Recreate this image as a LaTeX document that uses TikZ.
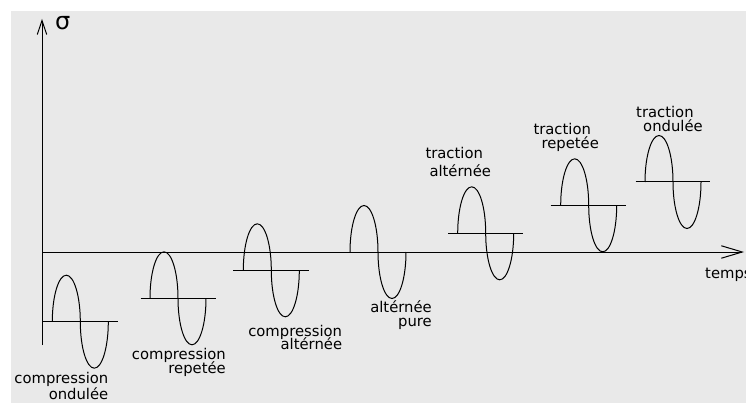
\documentclass[tikz,border=0pt]{standalone}
\usepackage{fontspec}
\usepackage{xcolor}
\usepackage{tikz}
\usetikzlibrary{arrows.meta}
\newfontfamily\plotfont{DejaVu Sans}
\definecolor{paper}{RGB}{233,233,233}

\begin{document}
\begin{tikzpicture}[
    x=1pt, y=-1pt,
    axis/.style={line width=1pt, draw=black},
    curve/.style={line width=1pt, draw=black},
    lbl/.style={inner sep=0pt, font={\plotfont\fontsize{14.8pt}{14.5pt}\selectfont\lineskiplimit=-20pt}},
    sigarrow/.style={-{Straight Barb[length=14pt, width=9.5pt]}},
    timarrow/.style={-{Straight Barb[length=21pt, width=12.5pt]}}
]

\useasboundingbox (0,0) rectangle (746,403);
\fill[paper] (11,11) rectangle (746,403);

% ===== AXES =====
\coordinate (origin) at (42,252);
\coordinate (sigBot) at (42,345);
\coordinate (sigTop) at (42,19);
\coordinate (timEnd) at (744,252);
\draw[axis, sigarrow] (sigBot) -- (sigTop);
\draw[axis, timarrow] (origin) -- (timEnd);
\node[anchor=base west, inner sep=0pt, font=\plotfont\fontsize{24pt}{24pt}\selectfont] (sigma) at (55,29.5) {σ};
\node[lbl, anchor=base west] (temps) at (705,278.3) {temps};

% ===== COMPRESSION ONDULEE =====
\draw[curve] (42,321.7) -- (117.7,321.7);
\draw[curve] (52.3,321.7) arc[start angle=180, end angle=0, x radius=14pt, y radius=46.5pt]
                          arc[start angle=180, end angle=360, x radius=14pt, y radius=46.5pt];
\node[lbl, anchor=north east, align=right] (cpOnd) at (108.5,372) {compression\\[1.5pt]ondulée};

% ===== COMPRESSION REPETEE =====
\draw[curve] (140.7,298.3) -- (215.7,298.3);
\draw[curve] (150,298.3) arc[start angle=180, end angle=0, x radius=14pt, y radius=46.5pt]
                         arc[start angle=180, end angle=360, x radius=14pt, y radius=46.5pt];
\node[lbl, anchor=north east, align=right] (cpRep) at (226,348.5) {compression\\[-0.5pt]repetée};

% ===== COMPRESSION ALTERNEE =====
\draw[curve] (233.3,270.3) -- (309,270.3);
\draw[curve] (243.3,270.3) arc[start angle=180, end angle=0, x radius=14pt, y radius=46.5pt]
                           arc[start angle=180, end angle=360, x radius=14pt, y radius=46.5pt];
\node[lbl, anchor=north east, align=right] (cpAlt) at (342.3,325) {compression\\[-1pt]altérnée};

% ===== ALTERNEE PURE =====
\draw[curve] (350,252) arc[start angle=180, end angle=0, x radius=14pt, y radius=46.5pt]
                       arc[start angle=180, end angle=360, x radius=14pt, y radius=46.5pt];
\node[lbl, anchor=north east, align=right] (altPure) at (432,300.9) {altérnée\\[-0.5pt]pure};

% ===== TRACTION ALTERNEE =====
\draw[curve] (448.3,233.3) -- (523.3,233.3);
\draw[curve] (457.7,233.3) arc[start angle=180, end angle=0, x radius=14pt, y radius=46.5pt]
                           arc[start angle=180, end angle=360, x radius=14pt, y radius=46.5pt];
\node[lbl, anchor=north west, align=left] (trAlt) at (425.3,147.3) {traction\\[3.2pt]\hspace*{4pt}altérnée};

% ===== TRACTION REPETEE =====
\draw[curve] (550.7,205.3) -- (626,205.3);
\draw[curve] (560.7,205.3) arc[start angle=180, end angle=0, x radius=14pt, y radius=46.5pt]
                           arc[start angle=180, end angle=360, x radius=14pt, y radius=46.5pt];
\node[lbl, anchor=north west, align=left] (trRep) at (533.3,123.5) {traction\\[-0.5pt]\hspace*{8pt}repetée};

% ===== TRACTION ONDULEE =====
\draw[curve] (635.7,182) -- (710,182);
\draw[curve] (645,182) arc[start angle=180, end angle=0, x radius=14pt, y radius=46.5pt]
                       arc[start angle=180, end angle=360, x radius=14pt, y radius=46.5pt];
\node[lbl, anchor=north west, align=left] (trOnd) at (636,106) {traction\\[-0.5pt]\hspace*{7pt}ondulée};

\end{tikzpicture}
\end{document}
